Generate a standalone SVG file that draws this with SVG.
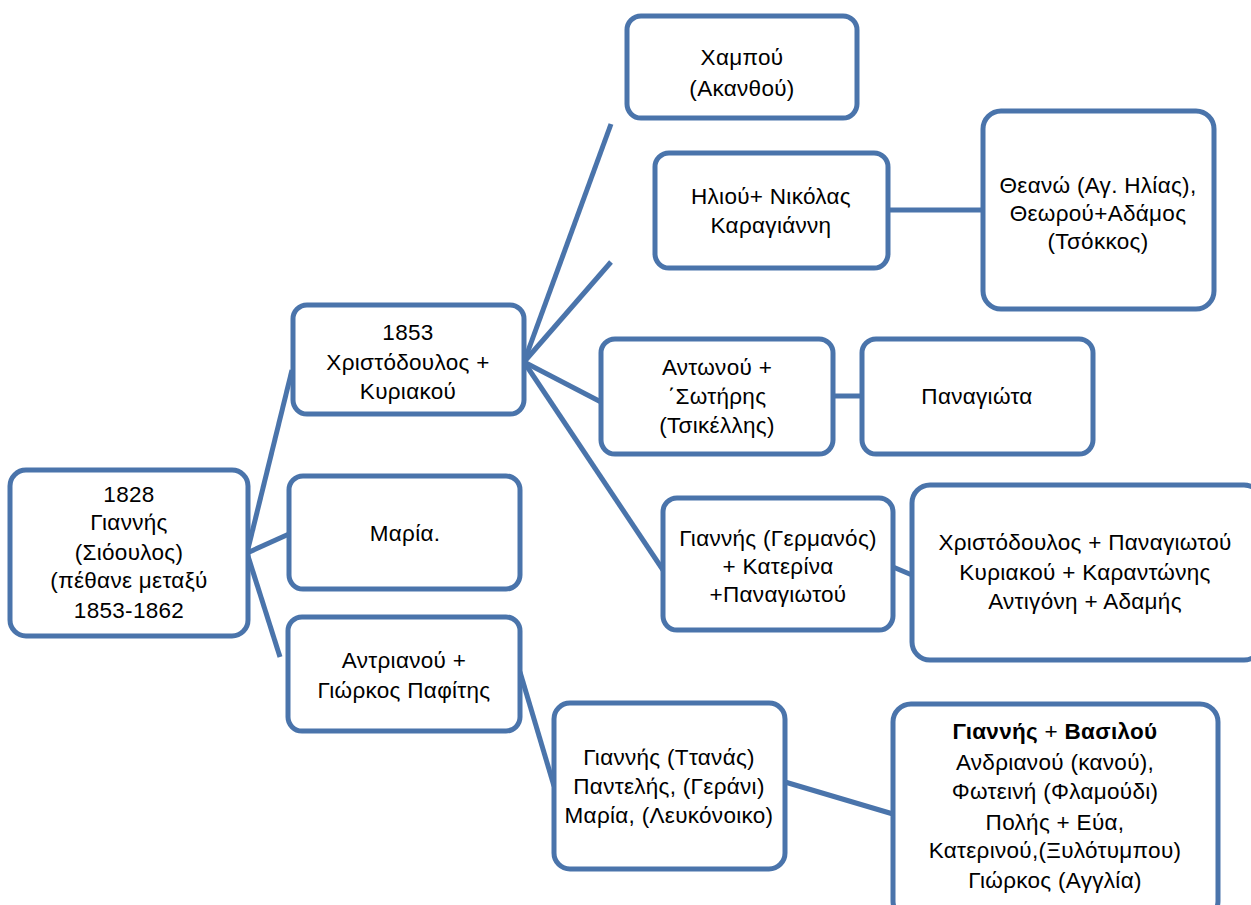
<svg xmlns="http://www.w3.org/2000/svg" width="1251" height="905" viewBox="0 0 1251 905">
<style>
.b{fill:#fff;stroke:#4A74AB;stroke-width:5}
.c{stroke:#4A74AB;stroke-width:5;fill:none;stroke-linecap:butt}
text{font-family:"Liberation Sans",Arial,sans-serif;font-size:22.5px;letter-spacing:0.3px;fill:#000;text-anchor:middle}
</style>
<rect width="1251" height="905" fill="#fff"/>
<g id="connectors">
<line class="c" x1="247" y1="553" x2="292" y2="370"/>
<line class="c" x1="247" y1="553" x2="289" y2="534"/>
<line class="c" x1="247" y1="553" x2="280" y2="657"/>
<line class="c" x1="524" y1="362" x2="611" y2="124"/>
<line class="c" x1="524" y1="362" x2="611" y2="262"/>
<line class="c" x1="524" y1="362" x2="601" y2="402"/>
<line class="c" x1="524" y1="362" x2="663" y2="570"/>
<line class="c" x1="888" y1="210" x2="983" y2="210"/>
<line class="c" x1="833" y1="396" x2="862" y2="396"/>
<line class="c" x1="893" y1="567" x2="912" y2="575"/>
<line class="c" x1="520" y1="672" x2="554" y2="786"/>
<line class="c" x1="785" y1="782" x2="893" y2="814"/>
</g>
<g id="root"><rect class="b" x="10" y="470" width="238" height="166" rx="16"/>
<text x="129" y="502">1828</text><text x="129" y="530">Γιαννής</text><text x="129" y="560">(Σιόουλος)</text><text x="129" y="588">(πέθανε μεταξύ</text><text x="129" y="618">1853-1862</text></g>
<g id="christodoulos"><rect class="b" x="293" y="305" width="231" height="109" rx="14"/>
<text x="408" y="340">1853</text><text x="408" y="370">Χριστόδουλος +</text><text x="408" y="399">Κυριακού</text></g>
<g id="maria"><rect class="b" x="289" y="476" width="231" height="113" rx="14"/>
<text x="405" y="541">Μαρία.</text></g>
<g id="antrianou"><rect class="b" x="288" y="617" width="232" height="114" rx="14"/>
<text x="404" y="668">Αντριανού +</text><text x="404" y="698">Γιώρκος Παφίτης</text></g>
<g id="champou"><rect class="b" x="627" y="16" width="230" height="102" rx="14"/>
<text x="742" y="65">Χαμπού</text><text x="742" y="96">(Ακανθού)</text></g>
<g id="iliou"><rect class="b" x="655" y="153" width="233" height="115" rx="14"/>
<text x="771" y="204">Ηλιού+ Νικόλας</text><text x="771" y="233">Καραγιάννη</text></g>
<g id="theano"><rect class="b" x="983" y="111" width="231" height="198" rx="18"/>
<text x="1098" y="193">Θεανώ (Αγ. Ηλίας),</text><text x="1098" y="221">Θεωρού+Αδάμος</text><text x="1098" y="249">(Τσόκκος)</text></g>
<g id="antonou"><rect class="b" x="601" y="339" width="232" height="115" rx="14"/>
<text x="717" y="375">Αντωνού +</text><text x="717" y="404">΄Σωτήρης</text><text x="717" y="433">(Τσικέλλης)</text></g>
<g id="panagiota"><rect class="b" x="862" y="339" width="231" height="115" rx="14"/>
<text x="977" y="404">Παναγιώτα</text></g>
<g id="germanos"><rect class="b" x="663" y="498" width="230" height="132" rx="14"/>
<text x="778" y="546">Γιαννής (Γερμανός)</text><text x="778" y="574">+ Κατερίνα</text><text x="778" y="602">+Παναγιωτού</text></g>
<g id="christodoulos2"><rect class="b" x="912" y="485" width="350" height="175" rx="18"/>
<text x="1085" y="550">Χριστόδουλος + Παναγιωτού</text><text x="1085" y="580">Κυριακού + Καραντώνης</text><text x="1085" y="609">Αντιγόνη + Αδαμής</text></g>
<g id="tpanas"><rect class="b" x="554" y="703" width="231" height="166" rx="16"/>
<text x="669" y="765">Γιαννής (Ττανάς)</text><text x="669" y="794">Παντελής, (Γεράνι)</text><text x="669" y="823">Μαρία, (Λευκόνοικο)</text></g>
<g id="vasilou"><rect class="b" x="893" y="704" width="325" height="215" rx="18"/>
<text x="1055" y="739"><tspan font-weight="bold">Γιαννής</tspan> + <tspan font-weight="bold">Βασιλού</tspan></text>
<text x="1055" y="770">Ανδριανού (κανού),</text><text x="1055" y="799">Φωτεινή (Φλαμούδι)</text><text x="1055" y="830">Πολής + Εύα,</text><text x="1055" y="858">Κατερινού,(Ξυλότυμπου)</text><text x="1055" y="888">Γιώρκος (Αγγλία)</text></g>
</svg>
